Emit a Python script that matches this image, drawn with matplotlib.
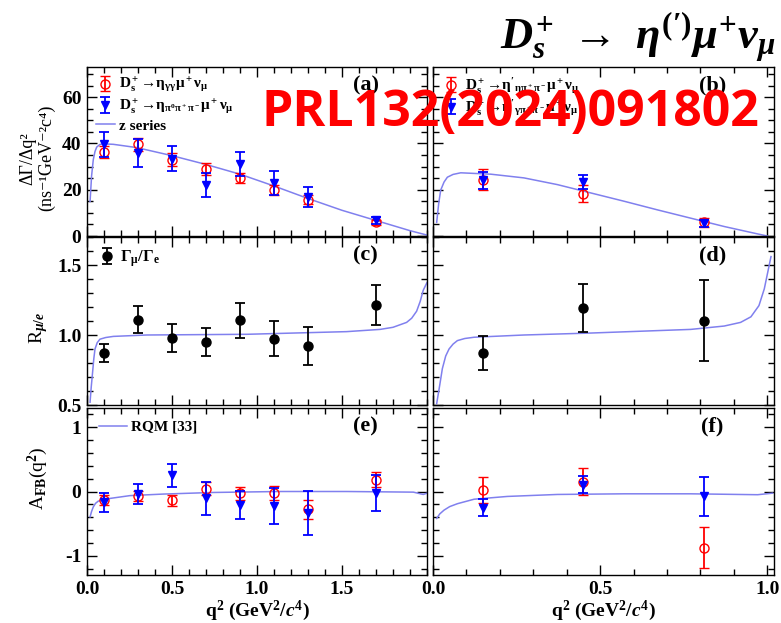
import matplotlib
matplotlib.use('Agg')
import matplotlib.pyplot as plt
from matplotlib.ticker import MultipleLocator, FixedLocator, FormatStrFormatter

plt.rcParams['font.family'] = ['Liberation Serif', 'DejaVu Serif']
plt.rcParams['font.weight'] = 'bold'
plt.rcParams['mathtext.fontset'] = 'custom'
plt.rcParams['mathtext.rm'] = 'Liberation Serif'
plt.rcParams['mathtext.bf'] = 'Liberation Serif:bold'
plt.rcParams['mathtext.it'] = 'Liberation Serif:italic:bold'
plt.rcParams['mathtext.fallback'] = 'stix'
plt.rcParams['axes.unicode_minus'] = False

# q2 bin centres
eta_q2 = [0.1, 0.3, 0.5, 0.7, 0.9, 1.1, 1.3, 1.7]
etap_q2 = [0.15, 0.45, 0.81]

# (a) partial rates, eta
rate_gg = [36.2, 39.6, 33.0, 29.1, 25.1, 20.0, 15.7, 5.9]
rate_gg_err = [2.5, 2.8, 2.7, 2.6, 2.0, 2.2, 2.0, 1.2]
rate_3pi = [39.6, 35.7, 33.3, 22.0, 31.2, 22.9, 16.8, 6.7]
rate_3pi_err = [5.4, 6.0, 5.4, 5.2, 5.3, 5.0, 4.4, 1.4]
# (b) partial rates, eta'
rate_etapipi = [24.3, 18.3, 5.9]
rate_etapipi_err = [4.5, 3.6, 1.8]
rate_gpipi = [24.1, 23.2, 5.5]
rate_gpipi_err = [3.6, 3.0, 1.5]

# (c)/(d) R mu/e
r_eta = [0.872, 1.109, 0.981, 0.948, 1.106, 0.974, 0.922, 1.215]
r_eta_err = [0.065, 0.098, 0.10, 0.10, 0.124, 0.124, 0.133, 0.145]
r_etap = [0.872, 1.191, 1.101]
r_etap_err = [0.12, 0.17, 0.29]

# (e)/(f) forward-backward asymmetry
afb_gg = [-0.128, -0.072, -0.138, 0.041, -0.026, -0.026, -0.277, 0.185]
afb_gg_err = [0.075, 0.08, 0.09, 0.10, 0.10, 0.11, 0.145, 0.12]
afb_3pi = [-0.17, -0.04, 0.25, -0.107, -0.21, -0.23, -0.33, -0.03]
afb_3pi_err = [0.15, 0.16, 0.185, 0.26, 0.225, 0.28, 0.34, 0.28]
afb_etapipi = [0.026, 0.154, -0.872]
afb_etapipi_err = [0.2, 0.21, 0.32]
afb_gpipi = [-0.25, 0.108, -0.077]
afb_gpipi_err = [0.13, 0.13, 0.3]

# theory curves
zs_eta_q2 = [0.018, 0.027, 0.037, 0.047, 0.057, 0.075, 0.096, 0.155, 0.292, 0.5, 0.7,
             0.9, 1.1, 1.3, 1.5, 1.7, 1.9, 2.0]
zs_eta_val = [14.9, 26.0, 33.0, 36.5, 38.4, 39.5, 39.8, 39.6, 38.2, 34.7, 30.9,
              26.7, 21.6, 16.2, 11.1, 6.7, 2.3, 0.4]
zs_etap_q2 = [0.011, 0.017, 0.023, 0.033, 0.043, 0.06, 0.083, 0.173, 0.272, 0.372,
              0.472, 0.572, 0.671, 0.771, 0.871, 0.971, 1.0]
zs_etap_val = [5.9, 14.0, 19.8, 23.3, 25.4, 26.6, 27.3, 26.7, 25.1, 22.2,
               18.6, 15.0, 11.3, 7.7, 4.1, 0.9, 0.0]

r_eta_q2 = [0.018, 0.025, 0.033, 0.04, 0.047, 0.06, 0.076, 0.11, 0.155, 0.351, 0.939,
            1.527, 1.724, 1.8, 1.88, 1.91, 1.939, 1.96, 1.978, 2.0]
r_eta_val = [0.52, 0.63, 0.735, 0.83, 0.90, 0.945, 0.97, 0.982, 0.99, 1.0, 1.005,
             1.024, 1.04, 1.055, 1.09, 1.12, 1.17, 1.24, 1.32, 1.375]
r_etap_q2 = [0.011, 0.02, 0.028, 0.038, 0.048, 0.06, 0.073, 0.095, 0.123, 0.272, 0.472,
             0.771, 0.871, 0.92, 0.951, 0.975, 0.991, 1.011]
r_etap_val = [0.51, 0.64, 0.76, 0.85, 0.90, 0.935, 0.96, 0.975, 0.984, 1.0, 1.014,
              1.04, 1.064, 1.09, 1.13, 1.21, 1.33, 1.56]

rqm_eta_q2 = [0.018, 0.027, 0.037, 0.05, 0.066, 0.116, 0.253, 0.449, 0.743, 1.135,
              1.527, 1.92, 1.978, 2.0]
rqm_eta_val = [-0.395, -0.31, -0.24, -0.185, -0.15, -0.115, -0.064, -0.04, -0.015, 0.0,
               0.0, -0.01, -0.046, -0.026]
rqm_etap_q2 = [0.011, 0.02, 0.033, 0.05, 0.073, 0.123, 0.222, 0.372, 0.572, 0.771,
               0.971, 1.016]
rqm_etap_val = [-0.42, -0.35, -0.29, -0.235, -0.19, -0.12, -0.077, -0.046, -0.036,
                -0.036, -0.05, -0.026]

red = '#ff0000'
blue = '#0000ff'
curve = '#8080ee'

fig = plt.figure(figsize=(7.81, 6.23), dpi=100)
W, H = 781.0, 623.0

def box(x0, x1, y0, y1):
    return [x0 / W, 1 - y1 / H, (x1 - x0) / W, (y1 - y0) / H]

ax_a = fig.add_axes(box(87, 427, 67, 236))
ax_b = fig.add_axes(box(433, 774, 67, 236))
ax_c = fig.add_axes(box(87, 427, 237, 405))
ax_d = fig.add_axes(box(433, 774, 237, 405))
ax_e = fig.add_axes(box(87, 427, 408, 575))
ax_f = fig.add_axes(box(433, 774, 408, 575))

def style(ax, left, ylim, ymaj, ymin, bottom):
    if left:
        ax.set_xlim(0, 2.0)
        ax.xaxis.set_major_locator(FixedLocator([0.0, 0.5, 1.0, 1.5]))
    else:
        ax.set_xlim(0, 1.02)
        ax.xaxis.set_major_locator(MultipleLocator(0.5))
    ax.xaxis.set_minor_locator(MultipleLocator(0.1))
    ax.set_ylim(*ylim)
    ax.yaxis.set_major_locator(MultipleLocator(ymaj))
    ax.yaxis.set_minor_locator(MultipleLocator(ymin))
    ax.tick_params(which='both', direction='in', top=True, right=True, width=1.0)
    ax.tick_params(which='major', length=7, labelsize=14, pad=4)
    ax.tick_params(which='minor', length=4)
    ax.tick_params(labelleft=left, labelbottom=bottom)
    for s in ax.spines.values():
        s.set_linewidth(1.0)

style(ax_a, True, (0, 73), 20, 5, False)
style(ax_b, False, (0, 73), 20, 5, False)
style(ax_c, True, (0.5, 1.7), 0.5, 0.1, False)
style(ax_d, False, (0.5, 1.7), 0.5, 0.1, False)
style(ax_e, True, (-1.3, 1.3), 1, 0.2, True)
style(ax_f, False, (-1.3, 1.3), 1, 0.2, True)
ax_a.yaxis.set_major_formatter(FormatStrFormatter('%g'))
ax_c.yaxis.set_major_formatter(FormatStrFormatter('%.1f'))
ax_e.yaxis.set_major_formatter(FormatStrFormatter('%g'))
for ax in (ax_e, ax_f):
    ax.xaxis.set_major_formatter(FormatStrFormatter('%.1f'))

ebk = dict(linestyle='none', elinewidth=1.3, capsize=3.5, capthick=1.3)

def pair(ax, q2, y1, e1, y2, e2):
    h1 = ax.errorbar(q2, y1, yerr=e1, fmt='o', color=red, mfc='none', mec=red,
                     ms=6.5, mew=1.0, zorder=3, **ebk)
    h2 = ax.errorbar(q2, y2, yerr=e2, fmt='v', color=blue, mfc=blue, mec=blue,
                     ms=5.5, zorder=4, **ebk)
    return h1, h2

leg_kw = dict(loc='upper left', frameon=False, fontsize=11, handlelength=1.2,
              handletextpad=0.3, labelspacing=0.15, borderaxespad=0.2)

# (a)
l_a, = ax_a.plot(zs_eta_q2, zs_eta_val, color=curve, lw=1.1, zorder=2)
h1, h2 = pair(ax_a, eta_q2, rate_gg, rate_gg_err, rate_3pi, rate_3pi_err)
ax_a.legend([h1, h2, l_a],
            [r'$\mathbf{D_s^+\!\rightarrow\!\eta_{\gamma\gamma}\mu^+\nu_\mu}$',
             r'$\mathbf{D_s^+\!\rightarrow\!\eta_{\pi^0\pi^+\pi^-}\mu^+\nu_\mu}$',
             'z series'], **leg_kw)

# (b)
ax_b.plot(zs_etap_q2, zs_etap_val, color=curve, lw=1.1, zorder=2)
h1, h2 = pair(ax_b, etap_q2, rate_etapipi, rate_etapipi_err, rate_gpipi, rate_gpipi_err)
ax_b.legend([h1, h2],
            [r"$\mathbf{D_s^+\!\rightarrow\!\eta'_{\eta\pi^+\pi^-}\mu^+\nu_\mu}$",
             r"$\mathbf{D_s^+\!\rightarrow\!\eta'_{\gamma\pi^+\pi^-}\mu^+\nu_\mu}$"], **leg_kw)

# (c)
ax_c.plot(r_eta_q2, r_eta_val, color=curve, lw=1.1, zorder=2)
hk = ax_c.errorbar(eta_q2, r_eta, yerr=r_eta_err, fmt='o', color='black', ms=6.5,
                   zorder=3, **ebk)
ax_c.legend([hk], [r'$\mathbf{\Gamma_\mu/\Gamma_e}$'], loc='upper left', frameon=False,
            fontsize=12, handlelength=1.0, handletextpad=0.3, borderaxespad=0.3)

# (d)
ax_d.plot(r_etap_q2, r_etap_val, color=curve, lw=1.1, zorder=2)
ax_d.errorbar(etap_q2, r_etap, yerr=r_etap_err, fmt='o', color='black', ms=6.5,
              zorder=3, **ebk)

# (e)
l_e, = ax_e.plot(rqm_eta_q2, rqm_eta_val, color=curve, lw=1.1, zorder=2)
pair(ax_e, eta_q2, afb_gg, afb_gg_err, afb_3pi, afb_3pi_err)
ax_e.legend([l_e], ['RQM [33]'], loc='upper left', frameon=False, fontsize=11,
            handlelength=1.8, handletextpad=0.3, borderaxespad=0.4)

# (f)
ax_f.plot(rqm_etap_q2, rqm_etap_val, color=curve, lw=1.1, zorder=2)
pair(ax_f, etap_q2, afb_etapipi, afb_etapipi_err, afb_gpipi, afb_gpipi_err)

for ax, lab in zip((ax_a, ax_b, ax_c, ax_d, ax_e, ax_f), 'abcdef'):
    ax.text(0.82, 0.89, '(%s)' % lab, transform=ax.transAxes, fontsize=16,
            fontweight='bold', ha='center', va='center')

ax_a.set_ylabel('ΔΓ/Δq²\n(ns⁻¹GeV⁻²c⁴)', fontsize=13, fontweight='normal',
                linespacing=1.1)
ax_c.set_ylabel(r'R$_{\mu/e}$', fontsize=14, fontweight='normal')
ax_e.set_ylabel(r'A$_{\rm FB}$(q$^{\rm 2}$)', fontsize=14, fontweight='normal')
ax_a.yaxis.set_label_coords(-0.094, 0.46)
ax_c.yaxis.set_label_coords(-0.108, 0.46)
ax_e.yaxis.set_label_coords(-0.108, 0.58)

for ax in (ax_e, ax_f):
    ax.set_xlabel(r'q$^{\mathbf{2}}$ (GeV$^{\mathbf{2}}$/$c^4$)', fontsize=14,
                  fontweight='bold', labelpad=1)

fig.text(775 / W, 1 - 38 / H,
         r'$D_s^{\mathbf{+}}\ \mathbf{\rightarrow}\ \eta^{\mathbf{(\prime)}}\mu^{\mathbf{+}}\nu_\mu$',
         fontsize=32, ha='right', va='center')

fig.text(510 / W, 1 - 113 / H, 'PRL132(2024)091802', family='Open Sans',
         fontweight='bold', fontsize=36, color='red', ha='center', va='center',
         zorder=10)

fig.savefig('out.png', dpi=100)
